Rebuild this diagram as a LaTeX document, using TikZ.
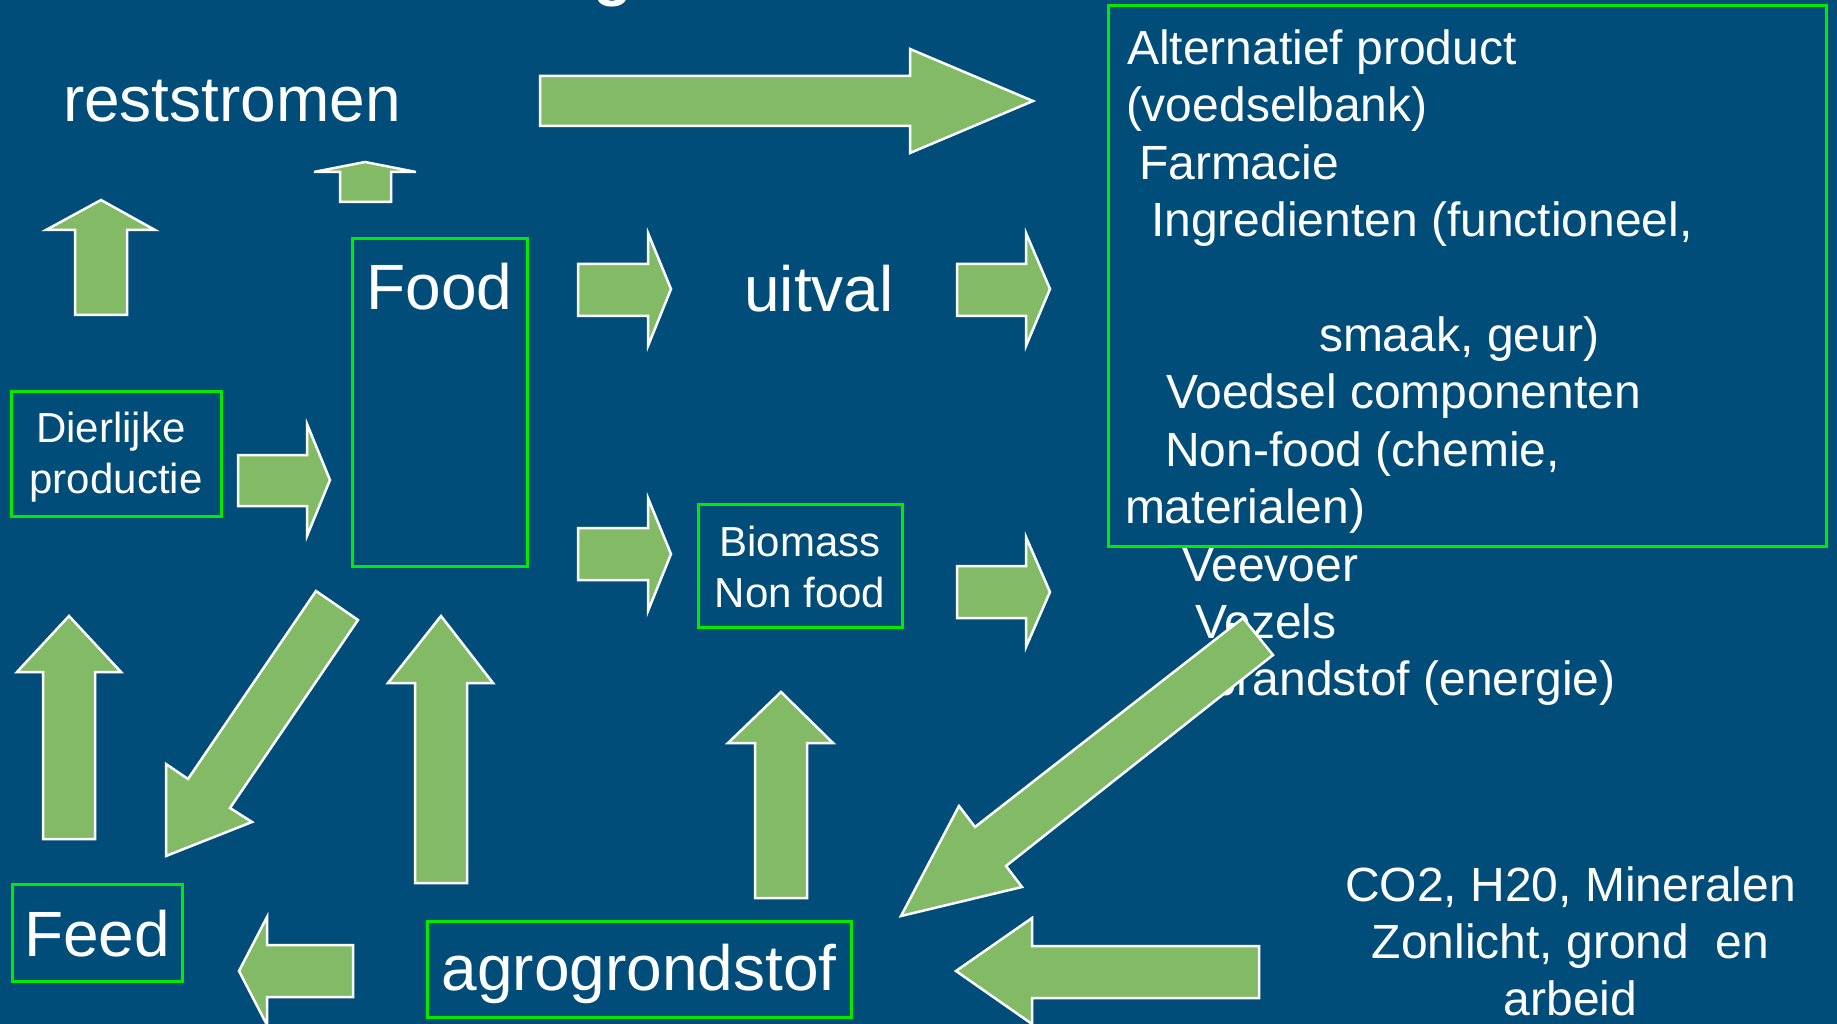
\documentclass[tikz,border=0pt]{standalone}
\usepackage{fontspec}
\setmainfont{Liberation Sans}
\definecolor{bg}{RGB}{0,77,122}
\definecolor{arrowgreen}{RGB}{130,186,102}
\definecolor{boxgreen}{RGB}{0,235,0}
\begin{document}
\begin{tikzpicture}[x=1pt,y=-1pt,
  blockarrow/.style={fill=arrowgreen, draw=white, line width=2.5pt, line join=miter},
  greenbox/.style={draw=boxgreen, line width=3pt, inner sep=0pt, outer sep=0pt},
  lbl/.style={text=white, inner sep=0pt, outer sep=0pt},
  fbig/.style={font=\fontsize{64}{76}\selectfont},
  fsmall/.style={font=\fontsize{42}{50}\selectfont},
  fmid/.style={font=\fontsize{48}{57.5}\selectfont}]
\fill[bg] (0,0) rectangle (1837,1024);
\useasboundingbox (0,0) rectangle (1837,1024);
\begin{scope}
\clip (0,0) rectangle (1837,1024);
\node[lbl, font=\bfseries\fontsize{64}{64}\selectfont, anchor=base] (titleg) at (613.5,-6) {g};
\end{scope}

% boxes
\node[greenbox, minimum width=175pt, minimum height=327pt] (foodbox) at (439.5,402.5) {};
\node[greenbox, minimum width=210pt, minimum height=125pt] (dierbox) at (116,453.5) {};
\node[greenbox, minimum width=204pt, minimum height=123pt] (biobox) at (800,565.5) {};
\node[greenbox, minimum width=170pt, minimum height=97pt] (feedbox) at (97,932.5) {};
\node[greenbox, minimum width=424pt, minimum height=96pt] (agrobox) at (639,969) {};
\node[greenbox, minimum width=717.5pt, minimum height=540.5pt] (panelbox) at (1467.25,276.25) {};

% block arrows
% top big right arrow
\draw[blockarrow] (540,76) -- (910,76) -- (910,49) -- (1033,101) -- (910,153) -- (910,126) -- (540,126) -- cycle;
% small up arrow above Food
\draw[blockarrow] (340,202) -- (340,172) -- (314,172) -- (365,162) -- (416,172) -- (391,172) -- (391,202) -- cycle;
% up arrow top left
\draw[blockarrow] (75,315) -- (75,230) -- (46,230) -- (101,200) -- (155,230) -- (127,230) -- (127,315) -- cycle;
% Food -> uitval
\draw[blockarrow] (578,264) -- (648,264) -- (648,233) -- (671,289) -- (648,346) -- (648,316) -- (578,316) -- cycle;
% uitval -> panel
\draw[blockarrow] (957,264) -- (1026,264) -- (1026,233) -- (1050,289) -- (1026,346) -- (1026,316) -- (957,316) -- cycle;
% Food -> Biomass
\draw[blockarrow] (578,528) -- (648,528) -- (648,498) -- (671,554) -- (648,611) -- (648,580) -- (578,580) -- cycle;
% Biomass -> panel
\draw[blockarrow] (957,566) -- (1026,566) -- (1026,537) -- (1050,592) -- (1026,647) -- (1026,618) -- (957,618) -- cycle;
% Dierlijke -> Food
\draw[blockarrow] (238,455) -- (307,455) -- (307,424) -- (330,480) -- (307,536) -- (307,506) -- (238,506) -- cycle;
% Feed -> Dierlijke (up)
\draw[blockarrow] (43,839) -- (43,672) -- (17,672) -- (69,616) -- (121,672) -- (95,672) -- (95,839) -- cycle;
% Food -> Feed (diagonal)
\draw[blockarrow] (316,591) -- (358,620) -- (230,808) -- (252,822) -- (166,856) -- (166,764) -- (188,779) -- cycle;
% agro -> Food (up)
\draw[blockarrow] (415,883) -- (415,683) -- (388,683) -- (441,616) -- (493,683) -- (467,683) -- (467,883) -- cycle;
% agro -> Feed (left)
\draw[blockarrow] (353,945) -- (267,945) -- (267,917) -- (239,971) -- (267,1025) -- (267,997) -- (353,997) -- cycle;
% agro -> Biomass (up)
\draw[blockarrow] (755,898) -- (755,743) -- (728,743) -- (781,692) -- (833,743) -- (807,743) -- (807,898) -- cycle;
% CO2 -> agro (left)
\draw[blockarrow] (1259,946) -- (1032,946) -- (1032,918) -- (956,971) -- (1032,1024) -- (1032,998) -- (1259,998) -- cycle;

% labels
\node[lbl, fbig, anchor=base] (reststromen) at (232,122) {reststromen};
\node[lbl, fbig, anchor=base] (foodlbl) at (439.5,310) {Food};
\node[lbl, fbig, anchor=base] (uitval) at (819,312) {uitval};
\node[lbl, fbig, anchor=base] (feedlbl) at (97,956) {Feed};
\node[lbl, fbig, anchor=base] (agrolbl) at (639,990) {agrogrondstof};
\node[lbl, fsmall, anchor=base] (dier1) at (111,442) {Dierlijke};
\node[lbl, fsmall, anchor=base] (dier2) at (116,493) {productie};
\node[lbl, fsmall, anchor=base] (bio1) at (800,556) {Biomass};
\node[lbl, fsmall, anchor=base] (bio2) at (800,607) {Non food};

% panel text
\node[lbl, fmid, anchor=base west] (p1) at (1127,64.4) {Alternatief product};
\node[lbl, fmid, anchor=base west] (p2) at (1126,121.8) {(voedselbank)};
\node[lbl, fmid, anchor=base west] (p3) at (1139,179.2) {Farmacie};
\node[lbl, fmid, anchor=base west] (p4) at (1151,236.7) {Ingredienten (functioneel,};
\node[lbl, fmid, anchor=base west] (p5) at (1319,351.5) {smaak, geur)};
\node[lbl, fmid, anchor=base west] (p6) at (1166,408.9) {Voedsel componenten};
\node[lbl, fmid, anchor=base west] (p7) at (1165,466.3) {Non-food (chemie,};
\node[lbl, fmid, anchor=base west] (p8) at (1125,523.7) {materialen)};
\node[lbl, fmid, anchor=base west] (p9) at (1182,581.1) {Veevoer};
\node[lbl, fmid, anchor=base west] (p10) at (1195,638.5) {Vezels};
\node[lbl, fmid, anchor=base west] (p11) at (1210,695.9) {brandstof (energie)};

\node[lbl, fmid, anchor=base] (c1) at (1570.5,901.5) {CO2, H20, Mineralen};
\node[lbl, fmid, anchor=base] (c2) at (1570.5,958) {Zonlicht, grond\ \ en};
\node[lbl, fmid, anchor=base] (c3) at (1570.5,1015) {arbeid};

% big diagonal arrow towards agrogrondstof (drawn over the text)
\draw[blockarrow] (1243,618) -- (1273,655) -- (1006,866) -- (1022,887) -- (901,916) -- (959,806) -- (975,827) -- cycle;
\end{tikzpicture}
\end{document}
